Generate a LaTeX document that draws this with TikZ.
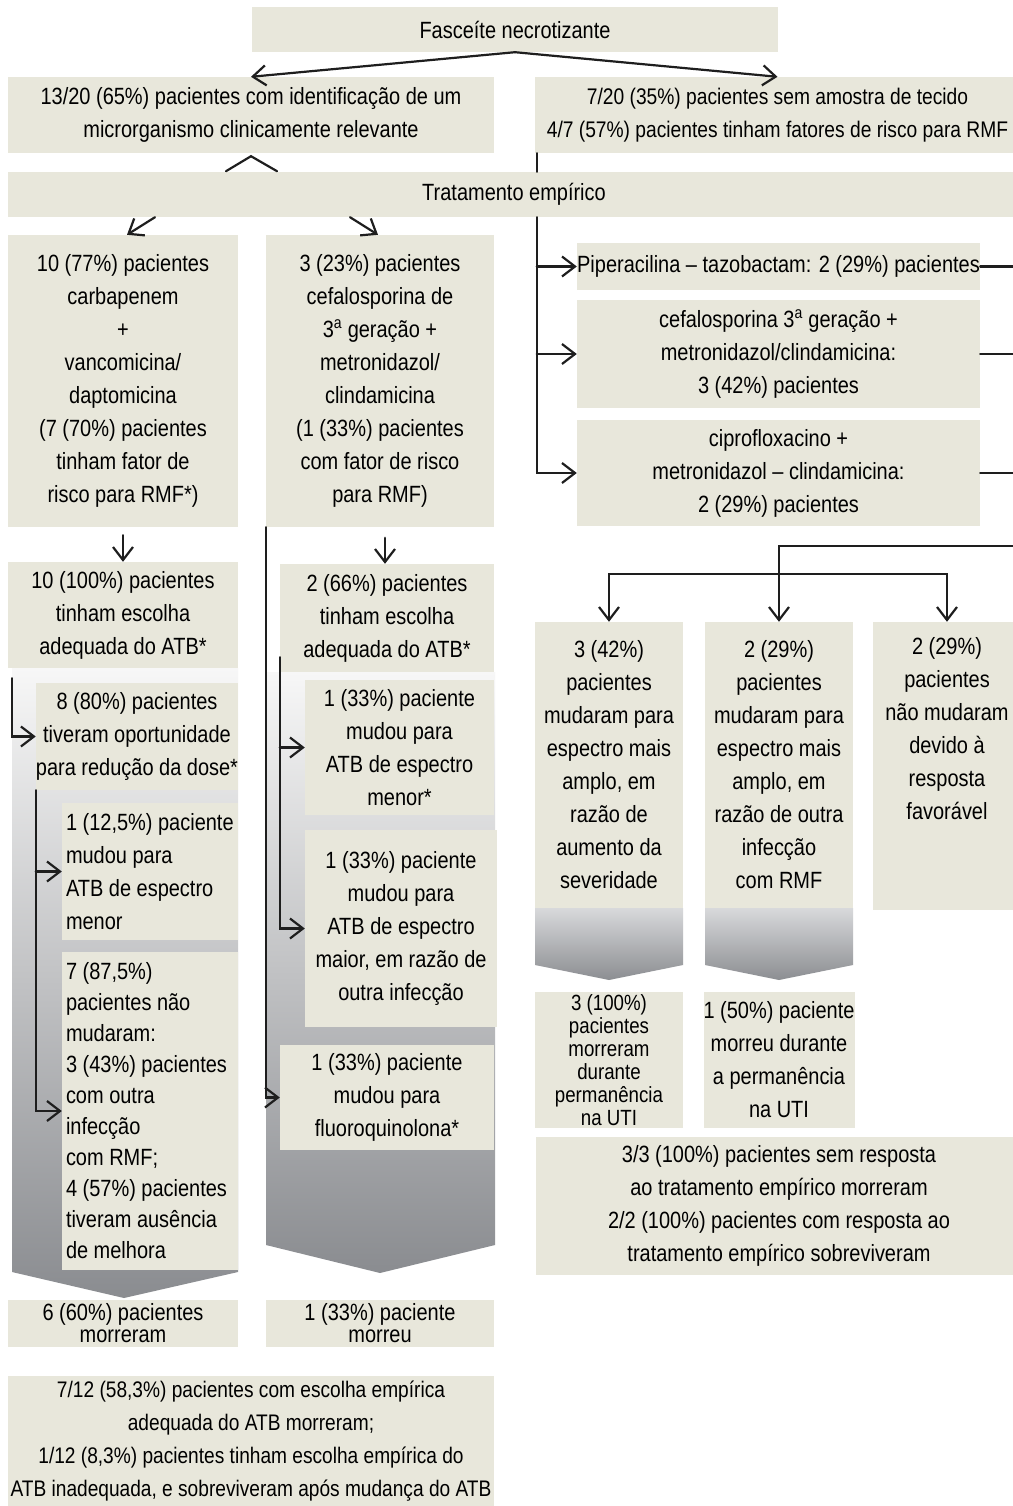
\documentclass[tikz,border=0pt]{standalone}
\usepackage{fontspec}
\newfontfamily\narrowfont[FakeStretch=0.85]{Liberation Sans}
\usetikzlibrary{arrows.meta}
\definecolor{boxfill}{RGB}{232,231,219}
\definecolor{shadetop}{RGB}{247,247,247}
\definecolor{shadebot}{RGB}{138,140,144}
\definecolor{chevtop}{RGB}{216,217,219}
\definecolor{chevbot}{RGB}{140,142,146}
\definecolor{linecol}{RGB}{30,30,30}
\newcommand\txtsize[2][23.5]{\narrowfont\fontsize{#1}{#2}\selectfont}

\begin{document}
\begin{tikzpicture}[x=1pt,y=-1pt,>={Straight Barb[length=13pt,width=20pt]},line cap=round,
  box/.style={fill=boxfill,inner sep=0pt,align=center,font=\txtsize{33}},
  leftbox/.style={box,align=flush left,text width=168pt,minimum width=176pt},
  link/.style={draw=linecol,line width=2.2pt}]
\useasboundingbox (0,0) rectangle (1012,1506);
\fill[white] (0,0) rectangle (1012,1506);
\shade[top color=shadetop,bottom color=shadebot] (12,668) -- (238,668) -- (238,1272) -- (124,1298) -- (12,1272) -- cycle;
\shade[top color=shadetop,bottom color=shadebot] (266,672) -- (495,672) -- (495,1245) -- (380,1273) -- (266,1245) -- cycle;
\shade[top color=chevtop,bottom color=chevbot] (535,908) -- (683,908) -- (683,965) -- (609,980) -- (535,965) -- cycle;
\shade[top color=chevtop,bottom color=chevbot] (705,908) -- (853,908) -- (853,965) -- (779,980) -- (705,965) -- cycle;

\node[box,minimum width=526,minimum height=45] (fasc) at (515,29.5) {Fasceíte necrotizante};
\node[box,minimum width=486,minimum height=76] (ident) at (251,115) {13/20 (65\%) pacientes com identificação de um\\microrganismo clinicamente relevante};
\node[box,minimum width=485,minimum height=76,font={\txtsize[22.6]{33}}] (semam) at (777.5,115) {7/20 (35\%) pacientes sem amostra de tecido\\4/7 (57\%) pacientes tinham fatores de risco para RMF};
\node[box,minimum width=1012,minimum height=45] (trat) at (514,194.5) {Tratamento empírico};

\node[box,minimum width=230,minimum height=292] (carb) at (123,381) {10 (77\%) pacientes\\carbapenem\\+\\vancomicina/\\daptomicina\\(7 (70\%) pacientes\\tinham fator de\\risco para RMF*)};
\node[box,minimum width=228,minimum height=292] (cefa) at (380,381) {3 (23\%) pacientes\\cefalosporina de\\3\textsuperscript{a} geração +\\metronidazol/\\clindamicina\\(1 (33\%) pacientes\\com fator de risco\\para RMF)};
\node[box,minimum width=230,minimum height=106] (carbok) at (123,615) {10 (100\%) pacientes\\tinham escolha\\adequada do ATB*};
\node[box,minimum width=214,minimum height=108] (cefaok) at (387,618) {2 (66\%) pacientes\\tinham escolha\\adequada do ATB*};
\node[box,minimum width=202,minimum height=107] (reduz) at (137,736.5) {8 (80\%) pacientes\\tiveram oportunidade\\para redução da dose*};
\node[leftbox,minimum height=137] (menorA) at (150,871.5) {1 (12,5\%) paciente\\mudou para\\ATB de espectro\\menor};
\node[leftbox,minimum height=318,font=\txtsize{31}] (naomud) at (150,1111) {7 (87,5\%)\\pacientes não\\mudaram:\\3 (43\%) pacientes\\com outra\\infecção\\com RMF;\\4 (57\%) pacientes\\tiveram ausência\\de melhora};
\node[box,minimum width=230,minimum height=47,font=\txtsize{22}] (morteA) at (123,1323.5) {6 (60\%) pacientes\\morreram};
\node[box,minimum width=189,minimum height=135] (menorB) at (399.5,747.5) {1 (33\%) paciente\\mudou para\\ATB de espectro\\menor*};
\node[box,minimum width=192,minimum height=197] (maior) at (401,928.5) {1 (33\%) paciente\\mudou para\\ATB de espectro\\maior, em razão de\\outra infecção};
\node[box,minimum width=214,minimum height=105] (fluor) at (387,1097.5) {1 (33\%) paciente\\mudou para\\fluoroquinolona*};
\node[box,minimum width=228,minimum height=47,font=\txtsize{22}] (morteB) at (380,1323.5) {1 (33\%) paciente\\morreu};
\node[box,minimum width=486,minimum height=130,font={\txtsize[22.5]{33}}] (resumoA) at (251,1441) {7/12 (58,3\%) pacientes com escolha empírica\\adequada do ATB morreram;\\1/12 (8,3\%) pacientes tinham escolha empírica do\\ATB inadequada, e sobreviveram após mudança do ATB};

\node[box,minimum width=403,minimum height=47] (pip) at (778.5,266.5) {Piperacilina – tazobactam: 2 (29\%) pacientes};
\node[box,minimum width=403,minimum height=108] (cef) at (778.5,354) {cefalosporina 3\textsuperscript{a} geração +\\metronidazol/clindamicina:\\3 (42\%) pacientes};
\node[box,minimum width=403,minimum height=106] (cip) at (778.5,473) {ciprofloxacino +\\metronidazol – clindamicina:\\2 (29\%) pacientes};
\node[box,minimum width=148,minimum height=286] (amplo) at (609,765) {3 (42\%)\\pacientes\\mudaram para\\espectro mais\\amplo, em\\razão de\\aumento da\\severidade};
\node[box,minimum width=148,minimum height=286] (outra) at (779,765) {2 (29\%)\\pacientes\\mudaram para\\espectro mais\\amplo, em\\razão de outra\\infecção\\com RMF};
\node[box,minimum width=148,minimum height=288] (favor) at (947,766) {2 (29\%)\\pacientes\\não mudaram\\devido à\\resposta\\favorável\\\strut\\\strut};
\node[box,minimum width=148,minimum height=136,font={\txtsize[22]{23}}] (uti) at (609,1060) {3 (100\%)\\pacientes\\morreram\\durante\\permanência\\na UTI};
\node[box,minimum width=148,minimum height=136] (utiB) at (779,1060) {1 (50\%) paciente\\morreu durante\\a permanência\\na UTI};
\node[box,minimum width=486,minimum height=138] (resumoB) at (779,1206) {3/3 (100\%) pacientes sem resposta\\ao tratamento empírico morreram\\2/2 (100\%) pacientes com resposta ao\\tratamento empírico sobreviveram};

\coordinate (bus) at ([xshift=2pt]semam.south west);
\coordinate (rim) at (1016,546);
\coordinate (fork) at (779,574);
\draw[link,->] (fasc.south) -- (ident.north);
\draw[link,->] (fasc.south) -- (semam.north);
\draw[link] ([xshift=-25pt,yshift=-18pt]ident.south) -- ([yshift=-3pt]ident.south) -- ([xshift=26pt,yshift=-18pt]ident.south);
\draw[link] (bus) -- (bus |- trat.north);
\draw[link,->] ([xshift=32pt]carb.north |- trat.south) -- ([xshift=4pt]carb.north);
\draw[link,->] ([xshift=-30pt]cefa.north |- trat.south) -- ([xshift=-2pt]cefa.north);
\draw[link,->] (bus |- trat.south) |- (cip.west);
\draw[link,->] (bus |- pip.west) -- (pip.west);
\draw[link,->] (bus |- cef.west) -- (cef.west);
\draw[link] (pip.east) -- (pip.east -| rim);
\draw[link] (cef.east) -- (cef.east -| rim);
\draw[link] (cip.east) -- (cip.east -| rim);
\draw[link,->] (rim) -| (outra.north);
\draw[link,->] (fork) -| (amplo.north);
\draw[link,->] (fork) -| (favor.north);
\draw[link,->] ([yshift=-8pt]carb.south) -- (carbok.north);
\draw[link,->] ([xshift=-2pt]cefaok.north) ++(0,-26) -- ([xshift=-2pt]cefaok.north);
\draw[link,->] (carbok.south west) ++(4,10) |- (reduz.west);
\draw[link,->] (reduz.south west) |- (naomud.west);
\draw[link,->] (reduz.south west |- menorA.west) -- (menorA.west);
\draw[link,->] (cefa.south west) |- (fluor.west);
\draw[link,->] ([yshift=15pt]cefaok.south west) |- (maior.west);
\draw[link,->] (cefaok.south west |- menorB.west) -- (menorB.west);
\end{tikzpicture}
\end{document}
